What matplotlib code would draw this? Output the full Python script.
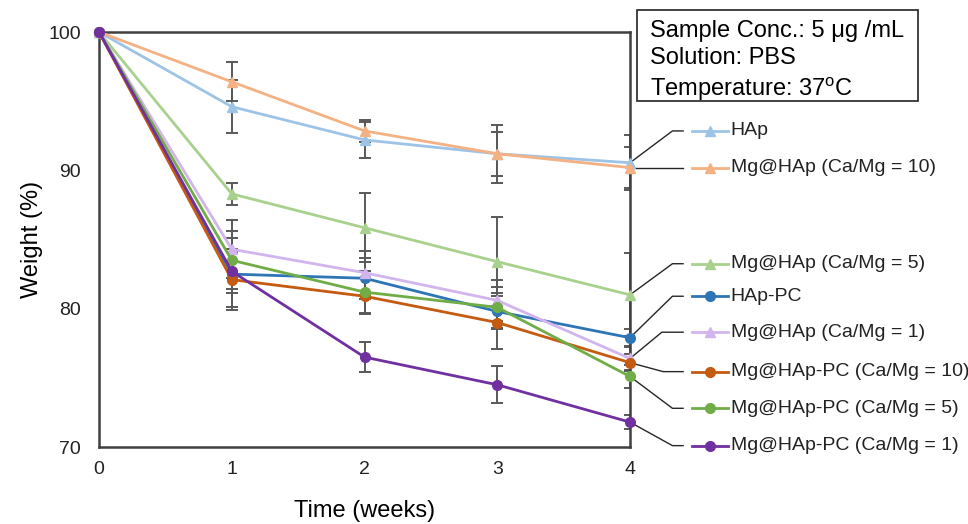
import matplotlib
matplotlib.use("Agg")
import matplotlib.pyplot as plt
from matplotlib.patches import Rectangle

plt.rcParams['font.family'] = ['Liberation Sans', 'DejaVu Sans']

weeks = [0, 1, 2, 3, 4]
names = ["HAp", "Mg@HAp (Ca/Mg = 10)", "Mg@HAp (Ca/Mg = 5)", "HAp-PC",
         "Mg@HAp (Ca/Mg = 1)", "Mg@HAp-PC (Ca/Mg = 10)", "Mg@HAp-PC (Ca/Mg = 5)",
         "Mg@HAp-PC (Ca/Mg = 1)"]
hap = [100, 94.6, 92.2, 91.2, 90.55]
mg10 = [100, 96.4, 92.85, 91.2, 90.2]
mg5 = [100, 88.3, 85.85, 83.4, 81.0]
hap_pc = [100, 82.5, 82.2, 79.8, 77.9]
mg1 = [100, 84.3, 82.6, 80.6, 76.4]
pc10 = [100, 82.1, 80.9, 79.0, 76.1]
pc5 = [100, 83.5, 81.2, 80.1, 75.1]
pc1 = [100, 82.7, 76.5, 74.5, 71.8]
err_hap = [0, 1.9, 1.3, 1.6, 2.0]
err_mg10 = [0, 1.4, 0.8, 2.1, 1.5]
err_mg5 = [0, 0.8, 2.5, 3.2, 3.0]
err_hap_pc = [0, 2.6, 1.5, 1.3, 0.6]
err_mg1 = [0, 2.1, 1.6, 1.5, 0.8]
err_pc10 = [0, 2.0, 1.3, 1.9, 0.6]
err_pc5 = [0, 2.1, 1.5, 1.5, 0.8]
err_pc1 = [0, 1.6, 1.1, 1.35, 0.5]
# label y positions (in data units) for the side legend
label_y = [92.85, 90.2, 83.25, 80.9, 78.3, 75.45, 72.8, 70.1]
box_text = "Sample Conc.: 5 μg /mL\nSolution: PBS\nTemperature: 37$^{\\mathregular{o}}$C"

series = [hap, mg10, mg5, hap_pc, mg1, pc10, pc5, pc1]
errs = [err_hap, err_mg10, err_mg5, err_hap_pc, err_mg1, err_pc10, err_pc5, err_pc1]
colors = ["#9DC3E6", "#F4B183", "#A9D18E", "#2E75B6", "#D2B4EE", "#C55A11", "#70AD47", "#7030A0"]
markers = ["^", "^", "^", "o", "^", "o", "o", "o"]

fig = plt.figure(figsize=(9.68, 5.24), dpi=100)
ax = fig.add_axes([0.1023, 0.1469, 0.5485, 0.792])

for y, e in zip(series, errs):
    ax.errorbar(weeks, y, yerr=e, fmt='none', ecolor="#595959", elinewidth=1.4,
                capsize=4, capthick=1.4, zorder=2)

for y, c, m in zip(series, colors, markers):
    ax.plot(weeks, y, color=c, marker=m, markersize=7 if m == "o" else 7.5,
            linewidth=2, zorder=3, clip_on=False)

knee_x = [4.32, 4.32, 4.32, 4.32, 4.24, 4.25, 4.32, 4.32]
for y, c, m, ly, n, kx in zip(series, colors, markers, label_y, names, knee_x):
    ax.plot([4, kx, 4.40], [y[-1], ly, ly], color="#262626", linewidth=1.0,
            clip_on=False, zorder=1)
    ax.plot([4.47, 4.74], [ly, ly], color=c, linewidth=2, clip_on=False)
    ax.plot([4.605], [ly], color=c, marker=m, markersize=7, clip_on=False)
    ax.text(4.76, ly, n, fontsize=14, va='center', ha='left', color="#222222")

ax.set_xlim(0, 4)
ax.set_ylim(70, 100)
ax.set_xticks(weeks)
ax.set_yticks([70, 80, 90, 100])
ax.tick_params(axis='y', length=0, labelsize=14, pad=13, colors="#222222")
ax.tick_params(axis='x', length=0, labelsize=14, pad=10, colors="#222222")
for s in ax.spines.values():
    s.set_color("#404040")
    s.set_linewidth(1.8)
ax.set_xlabel("Time (weeks)", fontsize=17, labelpad=16)
ax.set_ylabel("Weight (%)", fontsize=17, labelpad=4)

fig.patches.append(Rectangle((0.658, 0.8073), 0.2903, 0.1737, transform=fig.transFigure,
                             facecolor='white', edgecolor='#222222', linewidth=1.2, zorder=5))
fig.text(0.6715, 0.883, box_text, fontsize=17, va='center', ha='left', linespacing=1.3, zorder=6)

fig.savefig("out.png", dpi=100)
